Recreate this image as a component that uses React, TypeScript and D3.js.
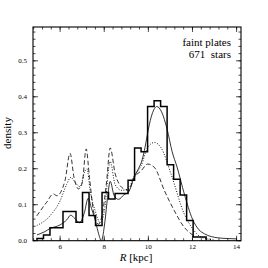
import * as d3 from "d3";

// histogram of the faint-plate sample (bin edges in kpc, density per bin)
const binEdges = [
  4.95, 5.245, 5.54, 5.835, 6.13, 6.425, 6.72, 7.015, 7.31, 7.605, 7.9, 8.195, 8.49, 8.785,
  9.08, 9.375, 9.67, 9.965, 10.26, 10.555, 10.85, 11.145, 11.44, 11.735, 12.03, 12.325, 12.62,
];
const binDensity = [
  0.006, 0.016, 0.036, 0.036, 0.081, 0.081, 0.051, 0.134, 0.07, 0.042, 0.134, 0.116, 0.131,
  0.131, 0.168, 0.258, 0.247, 0.373, 0.389, 0.373, 0.211, 0.171, 0.127, 0.056, 0.01, 0.01,
];

// model curves
const fitR = [
  4.95, 5.3, 5.55, 6.0, 6.3, 6.48, 6.66, 6.88, 7.1, 7.27, 7.42, 7.57, 7.72, 7.87, 8.03, 8.15,
  8.27, 8.45, 8.65, 8.9, 9.1, 9.35, 9.55, 9.72, 9.85, 10.0, 10.17, 10.38, 10.6, 10.85, 11.08,
  11.3, 11.63, 12.0, 12.3, 12.55, 13.15, 13.6, 14.0,
];
const fitD = [
  0.016, 0.025, 0.034, 0.044, 0.058, 0.071, 0.062, 0.05, 0.078, 0.118, 0.09, 0.062, 0.025, 0.0,
  0.053, 0.12, 0.165, 0.125, 0.115, 0.128, 0.135, 0.175, 0.2, 0.225, 0.26, 0.31, 0.352, 0.373,
  0.358, 0.31, 0.247, 0.205, 0.13, 0.06, 0.03, 0.019, 0.008, 0.006, 0.005,
];

const dashR = [
  4.94, 5.39, 5.69, 5.85, 6.22, 6.45, 6.63, 6.83, 7.0, 7.18, 7.33, 7.51, 7.74, 7.9, 8.1, 8.27,
  8.5, 8.88, 9.1, 9.36, 9.67, 9.97, 10.27, 10.73, 11.18, 11.63, 11.94, 12.1,
];
const dashD = [
  0.069, 0.107, 0.13, 0.125, 0.167, 0.243, 0.176, 0.144, 0.16, 0.255, 0.176, 0.083, 0.046, 0.07,
  0.16, 0.258, 0.185, 0.144, 0.14, 0.176, 0.194, 0.213, 0.204, 0.139, 0.083, 0.037, 0.019, 0.012,
];

const dotR = [
  4.94, 5.54, 6.0, 6.3, 6.48, 6.68, 6.9, 7.13, 7.22, 7.36, 7.59, 7.82, 8.0, 8.27, 8.5, 8.8, 9.1,
  9.36, 9.67, 9.97, 10.27, 10.57, 11.03, 11.63, 12.01, 12.39, 13.0,
];
const dotD = [
  0.042, 0.069, 0.111, 0.157, 0.176, 0.162, 0.15, 0.194, 0.2, 0.139, 0.083, 0.05, 0.08, 0.22,
  0.155, 0.14, 0.145, 0.181, 0.208, 0.259, 0.273, 0.259, 0.185, 0.074, 0.033, 0.01, 0.002,
];

const xMajor = [6, 8, 10, 12, 14];
const yMajor = [0, 0.1, 0.2, 0.3, 0.4, 0.5];

const W = 268;
const H = 268;
const left = 33;
const right = 241;
const top = 27;
const bottom = 240.7;
const font = "'Liberation Serif', 'DejaVu Serif', serif";

export default function App() {
  const x = d3.scaleLinear().domain([4.77, 14.2]).range([left, right]);
  const y = d3.scaleLinear().domain([0, 0.594]).range([bottom, top]);

  const xMinor = d3.range(4.8, 14.2, 0.4);
  const yMinor = d3.range(0, 0.594, 0.02);

  const histPts: [number, number][] = [
    [binEdges[0], 0],
    ...binDensity.map((d, i) => [binEdges[i], d] as [number, number]),
    [binEdges[binEdges.length - 1], 0],
  ];
  const step = d3
    .line<[number, number]>()
    .x((d) => x(d[0]))
    .y((d) => y(d[1]))
    .curve(d3.curveStepAfter);

  const smooth = d3
    .line<[number, number]>()
    .x((d) => x(d[0]))
    .y((d) => y(d[1]))
    .curve(d3.curveMonotoneX);

  const zip = (a: number[], b: number[]) => a.map((v, i) => [v, b[i]] as [number, number]);

  return (
    <svg
      width={W}
      height={H}
      style={{ position: "absolute", left: 0, top: 0, background: "#fff" }}
    >
      <defs>
        <clipPath id="plot">
          <rect x={left} y={top} width={right - left} height={bottom - top} />
        </clipPath>
      </defs>

      <g clipPath="url(#plot)" fill="none" stroke="#000">
        <path d={smooth(zip(dotR, dotD)) ?? ""} strokeWidth={0.9} strokeDasharray="1,1.6" />
        <path d={smooth(zip(dashR, dashD)) ?? ""} strokeWidth={0.8} strokeDasharray="4.5,2.5" />
        <path d={smooth(zip(fitR, fitD)) ?? ""} strokeWidth={0.8} />
        <path d={step(histPts) ?? ""} strokeWidth={1.5} />
      </g>

      {/* ticks, inward on all four sides */}
      <g stroke="#000" strokeWidth={0.7}>
        {xMinor.map((t) => (
          <g key={"xm" + t}>
            <line x1={x(t)} x2={x(t)} y1={bottom} y2={bottom - 2.5} />
            <line x1={x(t)} x2={x(t)} y1={top} y2={top + 2.5} />
          </g>
        ))}
        {xMajor.map((t) => (
          <g key={"xM" + t}>
            <line x1={x(t)} x2={x(t)} y1={bottom} y2={bottom - 5} />
            <line x1={x(t)} x2={x(t)} y1={top} y2={top + 5} />
          </g>
        ))}
        {yMinor.map((t) => (
          <g key={"ym" + t}>
            <line x1={left} x2={left + 2.5} y1={y(t)} y2={y(t)} />
            <line x1={right} x2={right - 2.5} y1={y(t)} y2={y(t)} />
          </g>
        ))}
        {yMajor.map((t) => (
          <g key={"yM" + t}>
            <line x1={left} x2={left + 5} y1={y(t)} y2={y(t)} />
            <line x1={right} x2={right - 5} y1={y(t)} y2={y(t)} />
          </g>
        ))}
      </g>

      <rect
        x={left}
        y={top}
        width={right - left}
        height={bottom - top}
        fill="none"
        stroke="#000"
        strokeWidth={1.1}
      />

      <g fontFamily={font} fontSize={7} fill="#000">
        {xMajor.map((t) => (
          <text key={"xl" + t} x={x(t)} y={bottom + 8} textAnchor="middle">
            {t}
          </text>
        ))}
        {yMajor.map((t) => (
          <text key={"yl" + t} x={left - 6} y={y(t) + 2.4} textAnchor="end">
            {d3.format(".1f")(t)}
          </text>
        ))}
      </g>

      <g fontFamily={font} fontSize={11} fill="#000">
        <text x={231} y={45.5} textAnchor="end">
          faint plates
        </text>
        <text x={231} y={58.3} textAnchor="end" style={{ whiteSpace: "pre" }}>
          {"671  stars"}
        </text>
        <text x={136} y={261} textAnchor="middle">
          <tspan fontStyle="italic">R</tspan> [kpc]
        </text>
        <text transform="translate(11,133) rotate(-90)" textAnchor="middle">
          density
        </text>
      </g>
    </svg>
  );
}
